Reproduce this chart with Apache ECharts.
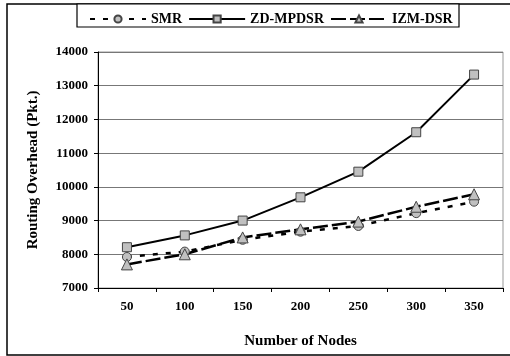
<!DOCTYPE html>
<html>
<head>
<meta charset="utf-8">
<script src="https://cdn.jsdelivr.net/npm/echarts@6/dist/echarts.min.js"></script>
<style>
  html, body { margin: 0; padding: 0; background: #fff; }
  #chart { width: 510px; height: 356px; }
</style>
</head>
<body>
<div id="chart"></div>
<script>
const nodes = ["50", "100", "150", "200", "250", "300", "350"];
const smr = [7920, 8080, 8430, 8670, 8840, 9220, 9560];
const zdMpdsr = [8210, 8560, 9000, 9690, 10450, 11620, 13330];
const izmDsr = [7700, 8000, 8500, 8740, 8970, 9410, 9780];

const font = "'Liberation Serif', 'Times New Roman', serif";
const markFill = "#c0c0c0";

function series(name, data, symbol, size, dash, width) {
  return {
    name,
    type: "line",
    data,
    symbol,
    symbolSize: size,
    showSymbol: true,
    lineStyle: { color: "#000", width, type: dash },
    itemStyle: { color: markFill, borderColor: "#444", borderWidth: 1 },
    emphasis: { disabled: true },
    z: 3,
  };
}

const chart = echarts.init(document.getElementById("chart"));
chart.setOption({
  animation: false,
  backgroundColor: "#fff",
  textStyle: { fontFamily: font },
  graphic: [
    { type: "rect", shape: { x: 7, y: 4, width: 510, height: 351 }, style: { fill: "none", stroke: "#000", lineWidth: 1.5 }, z: -1 },
    { type: "rect", shape: { x: 77, y: 4, width: 382, height: 23 }, style: { fill: "#fff", stroke: "#000", lineWidth: 1.2 }, z: 0 },
  ],
  legend: {
    left: 84,
    top: 7,
    itemWidth: 56,
    itemHeight: 9,
    itemGap: 6,
    textStyle: { fontFamily: font, fontWeight: "bold", fontSize: 14, color: "#000" },
    data: ["SMR", "ZD-MPDSR", "IZM-DSR"],
    z: 5,
  },
  grid: { left: 98, right: 7, top: 52, bottom: 68, show: true, borderColor: "#999", borderWidth: 1 },
  xAxis: {
    type: "category",
    data: nodes,
    name: "Number of Nodes",
    nameLocation: "middle",
    nameGap: 46,
    nameTextStyle: { fontFamily: font, fontWeight: "bold", fontSize: 15, color: "#000" },
    axisLine: { lineStyle: { color: "#000", width: 1 } },
    axisTick: { show: true, length: 4, lineStyle: { color: "#000" } },
    axisLabel: { margin: 12, fontFamily: font, fontWeight: "bold", fontSize: 13, color: "#000" },
  },
  yAxis: {
    type: "value",
    min: 7000,
    max: 14000,
    interval: 1000,
    name: "Routing Overhead (Pkt.)",
    nameLocation: "middle",
    nameGap: 57,
    nameTextStyle: { fontFamily: font, fontWeight: "bold", fontSize: 15, color: "#000" },
    axisLine: { show: true, lineStyle: { color: "#000", width: 1 } },
    axisTick: { show: true, length: 4, lineStyle: { color: "#000" } },
    axisLabel: { margin: 10, fontFamily: font, fontWeight: "bold", fontSize: 13, color: "#000", formatter: (v) => String(v) },
    splitLine: { lineStyle: { color: "#777", width: 1 } },
  },
  series: [
    series("SMR", smr, "circle", 9, [5, 8], 2.5),
    series("ZD-MPDSR", zdMpdsr, "rect", 9, "solid", 2),
    series("IZM-DSR", izmDsr, "triangle", 11, [15, 4], 2.5),
  ],
});
</script>
</body>
</html>
